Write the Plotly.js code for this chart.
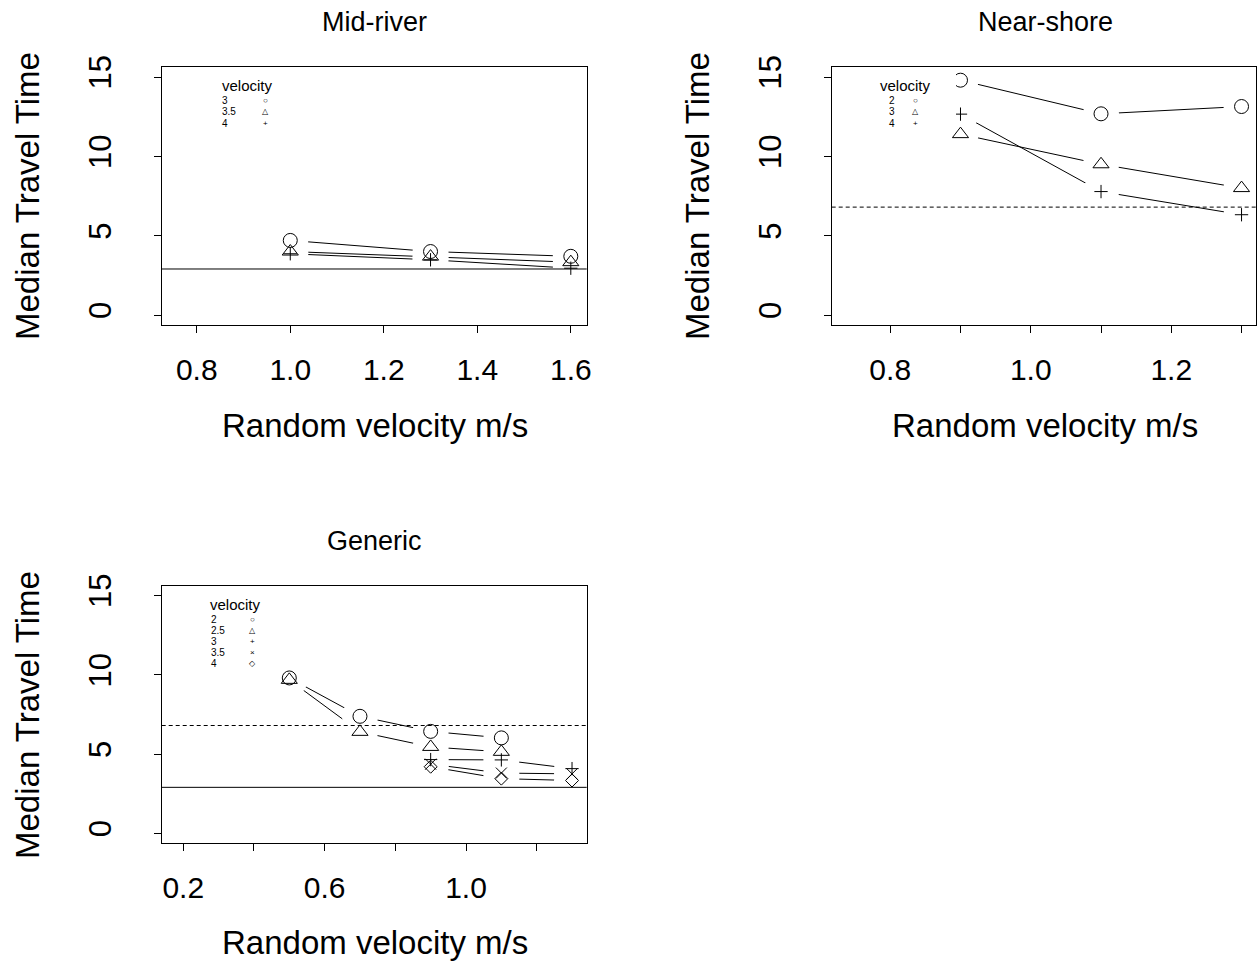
<!DOCTYPE html>
<html>
<head>
<meta charset="utf-8">
<script src="https://cdn.plot.ly/plotly-3.0.1.min.js"></script>
<style>html,body{margin:0;padding:0;background:#fff}#chart{width:1257px;height:963px}</style>
</head>
<body>
<div id="chart"></div>
<script>
// ---------- data ----------
// Mid-river
const midX = [1.0, 1.3, 1.6];
const midLevels = ['3', '3.5', '4'];
const midV3 = [4.7, 4.0, 3.7];
const midV35 = [4.0, 3.68, 3.33];
const midV4 = [3.86, 3.48, 2.95];
const midXTicks = [0.8, 1.0, 1.2, 1.4, 1.6];
const midXLabels = ['0.8', '1.0', '1.2', '1.4', '1.6'];

// Near-shore
const nearX = [0.9, 1.1, 1.3];
const nearLevels = ['2', '3', '4'];
const nearV2 = [14.8, 12.68, 13.14];
const nearV3 = [11.4, 9.5, 8.0];
const nearV4 = [12.66, 7.78, 6.32];
const nearXTicks = [0.8, 0.9, 1.0, 1.1, 1.2, 1.3];
const nearXLabels = ['0.8', '', '1.0', '', '1.2', ''];

// Generic
const genX = [0.5, 0.7, 0.9, 1.1, 1.3];
const genLevels = ['2', '2.5', '3', '3.5', '4'];
const genV2 = [9.8, 7.38, 6.43, 6.02, null];
const genV25 = [9.68, 6.4, 5.45, 5.14, null];
const genV3 = [null, null, 4.65, 4.63, 4.08];
const genV35 = [null, null, 4.36, 3.8, 3.75];
const genV4 = [null, null, 4.2, 3.45, 3.33];
const genXTicks = [0.2, 0.4, 0.6, 0.8, 1.0, 1.2];
const genXLabels = ['0.2', '', '0.6', '', '1.0', ''];

const yTicks = [0, 5, 10, 15];
const yLabels = ['0', '5', '10', '15'];

// reference levels
const refSolid = 2.9;
const refDashed = 6.8;

// ---------- styling ----------
const FONT = 'Liberation Sans, Arial, Helvetica, sans-serif';
const symbolStyles = [
  {symbol: 'circle-open', size: 14},
  {symbol: 'triangle-up-open', size: 14},
  {symbol: 'cross-thin-open', size: 9.5},
  {symbol: 'x-thin-open', size: 11},
  {symbol: 'diamond-open', size: 10}
];
const legendGlyphs = ['\u25CB', '\u25B3', '+', '\u00D7', '\u25C7'];

function panelTraces(xs, seriesList, symIdx, ax) {
  const lines = [], masks = [], marks = [];
  seriesList.forEach((ys, i) => {
    lines.push({x: xs, y: ys, xaxis: 'x' + ax, yaxis: 'y' + ax, type: 'scatter', mode: 'lines',
      line: {color: '#000', width: 1}, hoverinfo: 'skip', showlegend: false});
    masks.push({x: xs, y: ys, xaxis: 'x' + ax, yaxis: 'y' + ax, type: 'scatter', mode: 'markers',
      marker: {color: '#fff', size: 36, symbol: 'circle', line: {width: 0}}, hoverinfo: 'skip', showlegend: false});
    const st = symbolStyles[symIdx[i]];
    marks.push({x: xs, y: ys, xaxis: 'x' + ax, yaxis: 'y' + ax, type: 'scatter', mode: 'markers',
      marker: {symbol: st.symbol, size: st.size, color: '#000', line: {color: '#000', width: 1}}, showlegend: false});
  });
  return lines.concat(masks, marks);
}

const data = [].concat(
  panelTraces(midX, [midV3, midV35, midV4], [0, 1, 2], ''),
  panelTraces(nearX, [nearV2, nearV3, nearV4], [0, 1, 2], '2'),
  panelTraces(genX, [genV2, genV25, genV3, genV35, genV4], [0, 1, 2, 3, 4], '3')
);

const W = 1257, H = 963;
const px = v => v / W;
const py = v => 1 - v / H;

function xAxis(domain, range, tv, tt, anchor) {
  return {domain: domain, range: range, tickmode: 'array', tickvals: tv, ticktext: tt,
    showgrid: false, zeroline: false, showline: true, mirror: true, linecolor: '#000', linewidth: 1,
    ticks: 'outside', ticklen: 7, tickcolor: '#000', tickwidth: 1, anchor: anchor,
    tickfont: {family: FONT, size: 30, color: '#000'}, ticklabelstandoff: 11, fixedrange: true};
}
function yAxis(domain, range, anchor) {
  return {domain: domain, range: range, tickmode: 'array', tickvals: yTicks, ticktext: yLabels,
    showgrid: false, zeroline: false, showline: true, mirror: true, linecolor: '#000', linewidth: 1,
    ticks: 'outside', ticklen: 7, tickcolor: '#000', tickwidth: 1, anchor: anchor, tickangle: -90,
    tickfont: {family: FONT, size: 31, color: '#000'}, ticklabelstandoff: 30, fixedrange: true};
}

const row1 = [py(325), py(66.7)];
const row2 = [py(843.3), py(586)];

function hline(yref, y, dash) {
  return {type: 'line', xref: yref.replace('y', 'x') + ' domain', yref: yref, x0: 0, x1: 1, y0: y, y1: y,
    line: {color: '#000', width: 1, dash: dash}, layer: 'above'};
}

const annotations = [];
function txt(text, x, y, size, opts) {
  annotations.push(Object.assign({text: text, x: px(x), y: py(y), xref: 'paper', yref: 'paper',
    showarrow: false, xanchor: 'center', yanchor: 'middle',
    font: {family: FONT, size: size, color: '#000'}}, opts || {}));
}
// titles
txt('Mid-river', 375, 22, 27);
txt('Near-shore', 1045, 22, 27);
txt('Generic', 375, 541, 27);
// axis titles
txt('Random velocity m/s', 375, 425, 33);
txt('Random velocity m/s', 1045, 425, 33);
txt('Random velocity m/s', 375, 942, 33);
txt('Median Travel Time', 27, 196, 33, {textangle: -90});
txt('Median Travel Time', 697, 196, 33, {textangle: -90});
txt('Median Travel Time', 27, 715, 33, {textangle: -90});

// legends
function legend(titleX, titleY, labelX, symX, ys, levels, symIdx) {
  txt('velocity', titleX, titleY, 15, {yanchor: 'bottom'});
  levels.forEach((lv, i) => {
    txt(lv, labelX, ys[i], 10, {xanchor: 'left', borderpad: 0});
    txt(legendGlyphs[symIdx[i]], symX, ys[i], 8, {borderpad: 0});
  });
}
legend(247, 96, 221, 265, [100.5, 112, 123.5], midLevels, [0, 1, 2]);
legend(905.5, 96, 888, 915, [100.5, 112, 123.5], nearLevels, [0, 1, 2]);
legend(235.5, 614.5, 210, 253, [619, 630, 641.5, 652.5, 663.5], genLevels, [0, 1, 2, 3, 4]);

const shapes = [
  hline('y', refSolid, 'solid'),
  hline('y2', refDashed, '4px,3px'),
  hline('y3', refDashed, '4px,3px'),
  hline('y3', refSolid, 'solid'),
  // legend box background (covers part of the first Near-shore point, as in the reference)
  {type: 'rect', xref: 'paper', yref: 'paper', x0: px(868), x1: px(956), y0: py(130), y1: py(72),
    fillcolor: '#fff', line: {width: 0}, layer: 'above'}
];

const layout = {
  width: W, height: H, margin: {l: 0, r: 0, t: 0, b: 0},
  paper_bgcolor: '#fff', plot_bgcolor: '#fff', showlegend: false,
  xaxis: xAxis([px(161.7), px(586.7)], [0.725, 1.634], midXTicks, midXLabels, 'y'),
  yaxis: yAxis(row1, [-0.63, 15.65], 'x'),
  xaxis2: xAxis([px(831.7), px(1256.3)], [0.7167, 1.321], nearXTicks, nearXLabels, 'y2'),
  yaxis2: yAxis(row1, [-0.63, 15.65], 'x2'),
  xaxis3: xAxis([px(161.7), px(586.7)], [0.139, 1.3415], genXTicks, genXLabels, 'y3'),
  yaxis3: yAxis(row2, [-0.63, 15.6], 'x3'),
  shapes: shapes,
  annotations: annotations
};

Plotly.newPlot('chart', data, layout, {staticPlot: true, displayModeBar: false});
</script>
</body>
</html>
